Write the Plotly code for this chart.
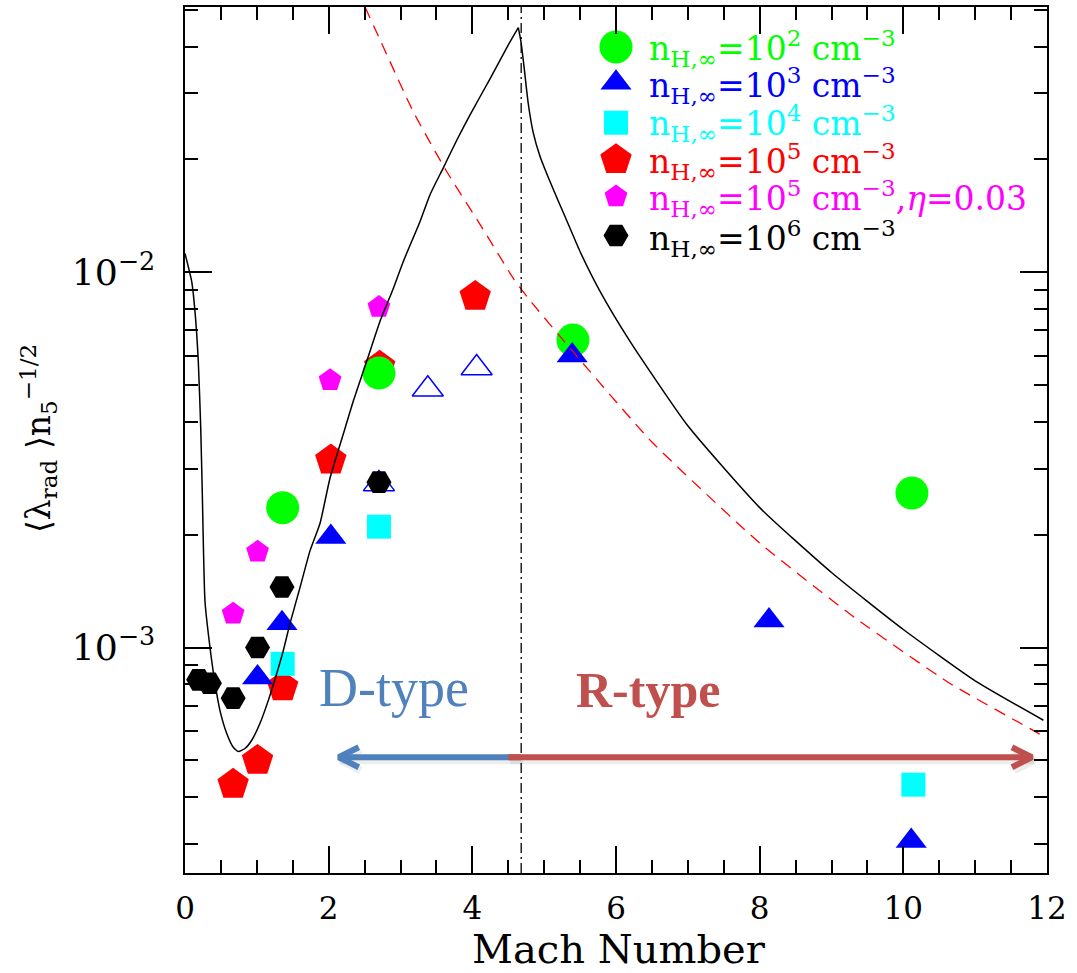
import plotly.graph_objects as go

# ---------------- data ----------------
# n_H = 1e2 (green circles)
m_n2 = [1.36, 2.70, 5.40, 10.12]
v_n2 = [2.36e-3, 5.39e-3, 6.6e-3, 2.58e-3]
# n_H = 1e3 (blue filled triangles)
m_n3 = [1.01, 1.35, 2.03, 5.39, 8.13, 10.11]
v_n3 = [8.32e-4, 1.16e-3, 1.97e-3, 6.0e-3, 1.18e-3, 3.05e-4]
# n_H = 1e3 open triangles
m_n3o = [2.70, 3.38, 4.06]
v_n3o = [2.73e-3, 4.88e-3, 5.56e-3]
# n_H = 1e4 (cyan squares)
m_n4 = [1.36, 2.70, 10.14]
v_n4 = [9.05e-4, 2.10e-3, 4.31e-4]
# n_H = 1e5 (red pentagons)
m_n5 = [0.67, 1.01, 1.36, 2.03, 2.71, 4.04]
v_n5 = [4.32e-4, 5.0e-4, 7.85e-4, 3.16e-3, 5.62e-3, 8.63e-3]
# n_H = 1e5, eta = 0.03 (magenta pentagons)
m_n5e = [0.67, 1.01, 2.02, 2.70]
v_n5e = [1.23e-3, 1.80e-3, 5.16e-3, 8.08e-3]
# n_H = 1e6 (black hexagons)
m_n6 = [0.19, 0.34, 0.67, 1.01, 1.35, 2.70]
v_n6 = [8.2e-4, 8.03e-4, 7.33e-4, 1.0e-3, 1.45e-3, 2.76e-3]

# black solid model curve: rising branch (up to the peak) and falling branch
rise_m = [0.0, 0.093, 0.139, 0.185, 0.219, 0.241, 0.278, 0.348, 0.418, 0.487,
          0.581, 0.672, 0.742, 0.835, 0.929, 1.044, 1.160, 1.277, 1.369, 1.462,
          1.601, 1.740, 1.879, 2.019, 2.204, 2.343, 2.530, 2.715, 2.900, 3.039,
          3.272, 3.411, 3.596, 3.783, 3.968, 4.246, 4.501, 4.640]
rise_v = [0.01123, 0.00946, 0.00787, 0.00580, 0.00385, 0.00257, 0.00133, 0.00100, 8.02e-4, 6.79e-4,
          5.90e-4, 5.42e-4, 5.28e-4, 5.38e-4, 5.66e-4, 6.28e-4, 7.23e-4, 8.53e-4, 9.82e-4, 1.16e-3,
          1.445e-3, 1.81e-3, 2.14e-3, 2.83e-3, 3.71e-3, 4.54e-3, 5.80e-3, 7.41e-3, 9.06e-3, 0.01069,
          0.01367, 0.01611, 0.01900, 0.0225, 0.0263, 0.0328, 0.0404, 0.0449]
fall_m = [4.640, 4.678, 4.720, 4.775, 4.845, 4.942, 5.081, 5.290, 5.499, 5.778, 6.195,
          7.0, 8.0, 9.0, 10.0, 11.0, 11.95]
fall_v = [0.0449, 0.0411, 0.0353, 0.0285, 0.0237, 0.0204, 0.01746, 0.01409, 0.01137, 0.00890, 0.00655,
          3.90e-3, 2.36e-3, 1.585e-3, 1.117e-3, 8.15e-4, 6.4e-4]

# red dashed curve
dash_m = [2.506, 2.715, 3.178, 3.643, 4.107, 4.571, 4.779, 5.360, 6.5, 8.0, 9.328, 10.650, 11.857, 12.0]
dash_v = [0.0510, 0.0417, 0.0268, 0.01857, 0.01343, 0.00964, 0.00853, 0.00628, 3.53e-3, 1.90e-3,
          1.20e-3, 8.02e-4, 5.94e-4, 5.72e-4]

# vertical transition line
m_transition = 4.68

# arrows (start Mach, tip Mach, level)
arrow_level = 5.10e-4
d_arrow = [4.68, 2.14]
r_arrow = [4.50, 11.79]

# axis ranges
x_range = [0, 12]
y_range_log = [-3.601, -1.2926]

legend_labels = [
    "n<sub>H,∞</sub>=10<sup>2</sup> cm<sup>−3</sup>",
    "n<sub>H,∞</sub>=10<sup>3</sup> cm<sup>−3</sup>",
    "n<sub>H,∞</sub>=10<sup>4</sup> cm<sup>−3</sup>",
    "n<sub>H,∞</sub>=10<sup>5</sup> cm<sup>−3</sup>",
    "n<sub>H,∞</sub>=10<sup>5</sup> cm<sup>−3</sup>,<i>η</i>=0.03",
    "n<sub>H,∞</sub>=10<sup>6</sup> cm<sup>−3</sup>",
]

# ---------------- figure ----------------
W, H = 1077, 973
L, R, T, B = 185, 30, 5, 100
pw, ph = W - L - R, H - T - B

FONT = "DejaVu Serif"

fig = go.Figure()

def add_markers(m, v, symbol, color, size, line=None):
    fig.add_trace(go.Scatter(
        x=m, y=v, mode="markers",
        marker=dict(symbol=symbol, color=color, size=size,
                    line=line or dict(width=0)),
        showlegend=False, hoverinfo="skip"))

GREEN, BLUE, CYAN, RED, MAG, BLACK = "#00FF00", "#0000FF", "#00FFFF", "#FF0000", "#FF00FF", "#000000"

add_markers(m_n5, v_n5, "pentagon", RED, 33)
add_markers(m_n5e, v_n5e, "pentagon", MAG, 24)
add_markers(m_n2, v_n2, "circle", GREEN, 33)
add_markers(m_n4, v_n4, "square", CYAN, 24)
add_markers(m_n3, v_n3, "triangle-up", BLUE, 27)
add_markers(m_n3o, v_n3o, "triangle-up-open", BLUE, 27, dict(width=1.5, color=BLUE))
add_markers(m_n6, v_n6, "hexagon2", BLACK, 25)

# curves
for cm, cv in ((rise_m, rise_v), (fall_m, fall_v)):
    fig.add_trace(go.Scatter(x=cm, y=cv, mode="lines",
                             line=dict(color="black", width=1.5, shape="spline", smoothing=0.5),
                             showlegend=False, hoverinfo="skip"))
fig.add_trace(go.Scatter(x=dash_m, y=dash_v, mode="lines",
                         line=dict(color="red", width=1.3, dash="12px,8px", shape="spline", smoothing=0.5),
                         showlegend=False, hoverinfo="skip"))

# vertical dash-dot line
ylo, yhi = 10 ** y_range_log[0], 10 ** y_range_log[1]
fig.add_trace(go.Scatter(x=[m_transition, m_transition], y=[ylo, yhi], mode="lines",
                         line=dict(color="black", width=1.3, dash="10px,4px,2px,4px"),
                         showlegend=False, hoverinfo="skip"))

# arrows
px_per_m = pw / (x_range[1] - x_range[0])
px_per_dec = ph / (y_range_log[1] - y_range_log[0])
arm_dx = 20 / px_per_m
arm_f = 10 ** (10 / px_per_dec)
sh_dx = 2 / px_per_m
sh_f = 10 ** (-3 / px_per_dec)

def arrow(start, tip, color):
    sgn = 1 if tip < start else -1
    xs = [start, tip, None, tip + sgn * arm_dx, tip, tip + sgn * arm_dx]
    ys = [arrow_level, arrow_level, None, arrow_level * arm_f, arrow_level, arrow_level / arm_f]
    fig.add_trace(go.Scatter(x=[x + sh_dx if x is not None else None for x in xs],
                             y=[y * sh_f if y is not None else None for y in ys],
                             mode="lines", line=dict(color="rgba(0,0,0,0.07)", width=8),
                             showlegend=False, hoverinfo="skip"))
    fig.add_trace(go.Scatter(x=xs, y=ys, mode="lines",
                             line=dict(color=color, width=6),
                             showlegend=False, hoverinfo="skip"))

arrow(d_arrow[0], d_arrow[1], "#4F81BD")
arrow(r_arrow[0], r_arrow[1], "#C0504D")

# legend (overlay axis in plot-fraction units)
leg_syms = [("circle", GREEN, 33), ("triangle-up", BLUE, 27), ("square", CYAN, 24),
            ("pentagon", RED, 33), ("pentagon", MAG, 24), ("hexagon2", BLACK, 25)]
leg_colors = [GREEN, BLUE, CYAN, RED, MAG, BLACK]
mark_px = [45, 81, 121, 158, 195, 234]
text_px = [43, 80, 118, 156, 193, 233]
leg_x = (616 - L) / pw
txt_x = (647 - L) / pw
for (sym, col, sz), py in zip(leg_syms, mark_px):
    fig.add_trace(go.Scatter(x=[leg_x], y=[(H - B - py) / ph], xaxis="x2", yaxis="y2",
                             mode="markers", marker=dict(symbol=sym, color=col, size=sz, line=dict(width=0)),
                             showlegend=False, hoverinfo="skip", cliponaxis=False))
annotations = []
for lab, col, py in zip(legend_labels, leg_colors, text_px):
    annotations.append(dict(x=txt_x, y=(H - B - py) / ph, xref="paper", yref="paper",
                            text=lab, showarrow=False, xanchor="left", yanchor="middle",
                            yshift=-4, font=dict(family=FONT, size=33, color=col)))

# D-type / R-type labels
annotations.append(dict(x=(394 - L) / pw, y=(H - B - 688) / ph, xref="paper", yref="paper",
                        text="D-type", showarrow=False, xanchor="center", yanchor="middle",
                        font=dict(family="Liberation Serif", size=54, color="#4F81BD")))
annotations.append(dict(x=(648 - L) / pw, y=(H - B - 690) / ph, xref="paper", yref="paper",
                        text="<b>R-type</b>", showarrow=False, xanchor="center", yanchor="middle",
                        font=dict(family="Liberation Serif", size=50, color="#C0504D")))

# axis titles
annotations.append(dict(x=(619 - L) / pw, y=-(949 - (H - B)) / ph, xref="paper", yref="paper",
                        text="Mach Number", showarrow=False, xanchor="center", yanchor="middle",
                        font=dict(family=FONT, size=40, color="black")))
annotations.append(dict(x=-(L - 38) / pw, y=(H - B - 438) / ph, xref="paper", yref="paper",
                        text="⟨λ<sub>rad</sub> ⟩n<sub>5</sub><sup>−1/2</sup>", showarrow=False,
                        textangle=-90, xanchor="center", yanchor="middle",
                        font=dict(family=FONT, size=33, color="black")))

axis_common = dict(showline=True, linecolor="black", linewidth=2, mirror="allticks",
                   ticks="inside", ticklen=27, tickwidth=1.5, tickcolor="black",
                   showgrid=False, zeroline=False)

fig.update_layout(
    width=W, height=H,
    margin=dict(l=L, r=R, t=T, b=B),
    paper_bgcolor="white", plot_bgcolor="white",
    showlegend=False,
    annotations=annotations,
    xaxis=dict(range=x_range, dtick=2, tick0=0, ticklabelstandoff=7,
               tickfont=dict(family=FONT, size=31, color="black"),
               minor=dict(dtick=0.5, ticks="inside", ticklen=13, tickwidth=1.5, tickcolor="black", showgrid=False),
               **axis_common),
    yaxis=dict(type="log", range=y_range_log, dtick=1, exponentformat="power", ticklabelstandoff=22,
               tickfont=dict(family=FONT, size=29, color="black"),
               minor=dict(dtick="D1", ticks="inside", ticklen=13, tickwidth=1.5, tickcolor="black", showgrid=False),
               **axis_common),
    xaxis2=dict(overlaying="x", range=[0, 1], visible=False, anchor="y2"),
    yaxis2=dict(overlaying="y", range=[0, 1], visible=False, anchor="x2"),
)

fig.write_html("out.html")
